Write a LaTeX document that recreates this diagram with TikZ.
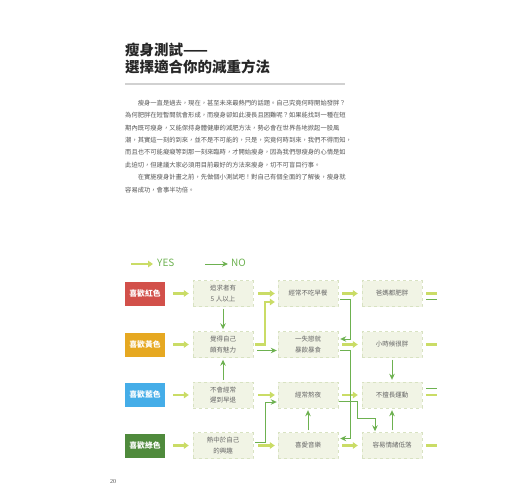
\documentclass[tikz,border=0pt]{standalone}
\usepackage{fontspec}
\setmainfont{Noto Sans CJK TC}
\newfontfamily\pagefont{Liberation Serif}
\usetikzlibrary{arrows.meta,calc}
\definecolor{redc}{HTML}{D2504A}
\definecolor{yelc}{HTML}{E6A821}
\definecolor{bluc}{HTML}{45ADE8}
\definecolor{grnc}{HTML}{4F8A3C}
\definecolor{yesc}{HTML}{CADC66}
\definecolor{noc}{HTML}{6DB150}
\definecolor{boxf}{HTML}{F1F4E5}
\definecolor{boxd}{HTML}{D8E2C2}
\definecolor{txtc}{HTML}{666666}
\definecolor{bodyc}{HTML}{555555}
\tikzset{
  qbox/.style={draw=boxd, dashed, fill=boxf, minimum width=60, minimum height=26, inner sep=0pt, align=center, text=txtc, font=\fontsize{6.5}{10.5}\selectfont},
  cbox/.style={minimum width=40, minimum height=24, inner sep=0pt, text=white, font=\fontsize{7.8}{8}\selectfont\bfseries},
  yesarrow/.style={draw=yesc, line width=2.2pt, -{Triangle[length=5pt,width=6.5pt]}},
  yesstub/.style={draw=yesc, line width=2.2pt},
  noarrow/.style={draw=noc, line width=1pt, -{Stealth[length=6pt,width=5.5pt]}},
  nostub/.style={draw=noc, line width=1pt},
  bodyline/.style={anchor=west, inner sep=0pt, text=bodyc, font=\fontsize{6.3}{7}\selectfont},
  titleline/.style={anchor=west, inner sep=0pt, text=black!85, font=\fontsize{14.5}{15}\selectfont\bfseries},
  legend/.style={anchor=west, inner sep=0pt, text=noc, font=\fontsize{10}{10}\selectfont}
}
\begin{document}
\begin{tikzpicture}[x=1pt,y=-1pt]
\useasboundingbox (0,0) rectangle (520,500);
% title
\node[titleline] (t1) at (125,50) {瘦身測試——};
\node[titleline] (t2) at (125,67) {選擇適合你的減重方法};
\draw[black!18, line width=1.2pt] (125,84) -- (345,84);
% body
\node[bodyline] (p1) at (125,103) {\hspace*{2em}瘦身一直是過去，現在，甚至未來最熱門的話題。自己究竟何時開始發胖？};
\node[bodyline] (p2) at (125,115.4) {為何肥胖在短暫間就會形成，而瘦身卻如此漫長且困難呢？如果能找到一種在短};
\node[bodyline] (p3) at (125,127.8) {期內既可瘦身，又能保持身體健康的減肥方法，勢必會在世界各地掀起一股風};
\node[bodyline] (p4) at (125,140.2) {潮，其實這一刻的到來，並不是不可能的，只是，究竟何時到來，我們不得而知，};
\node[bodyline] (p5) at (125,152.6) {而且也不可能癡癡等到那一刻來臨時，才開始瘦身，因為我們想瘦身的心情是如};
\node[bodyline] (p6) at (125,165) {此迫切，但建議大家必須用目前最好的方法來瘦身，切不可盲目行事。};
\node[bodyline] (p7) at (125,177.4) {\hspace*{2em}在實施瘦身計畫之前，先做個小測試吧！對自己有個全面的了解後，瘦身就};
\node[bodyline] (p8) at (125,189.8) {容易成功，會事半功倍。};
% legend
\node[legend] (lyes) at (157,263) {YES};
\node[legend] (lno) at (231,263) {NO};
\draw[yesarrow] ([xshift=-26pt,yshift=-1pt]lyes.west) -- ([xshift=-4pt,yshift=-1pt]lyes.west);
\draw[noarrow] ([xshift=-26pt,yshift=-1pt]lno.west) -- ([xshift=-3pt,yshift=-1pt]lno.west);
% color boxes
\node[cbox, fill=redc] (k1) at (145,293.5) {喜歡紅色};
\node[cbox, fill=yelc] (k2) at (145,344.5) {喜歡黃色};
\node[cbox, fill=bluc] (k3) at (145,395) {喜歡藍色};
\node[cbox, fill=grnc] (k4) at (145,445.5) {喜歡綠色};
% question boxes
\node[qbox] (a1) at (223,293.5) {追求者有\\5 人以上};
\node[qbox] (b1) at (308,293.5) {經常不吃早餐};
\node[qbox] (c1) at (392,293.5) {爸媽都肥胖};
\node[qbox] (a2) at (223,344.5) {覺得自己\\頗有魅力};
\node[qbox] (b2) at (308,344.5) {一失戀就\\暴飲暴食};
\node[qbox] (c2) at (392,344.5) {小時候很胖};
\node[qbox] (a3) at (223,395) {不會經常\\遲到早退};
\node[qbox] (b3) at (308,395) {經常熬夜};
\node[qbox] (c3) at (392,395) {不擅長運動};
\node[qbox] (a4) at (223,445.5) {熱中於自己\\的興趣};
\node[qbox] (b4) at (308,445.5) {喜愛音樂};
\node[qbox] (c4) at (392,445.5) {容易情緒低落};
% yes arrows, straight
\foreach \r in {1,2,3,4}{
  \draw[yesarrow, shorten <=8pt, shorten >=4pt] (k\r) -- (a\r);
  \draw[yesarrow, shorten <=4pt, shorten >=4pt] (b\r) -- (c\r);
}
\foreach \r in {1,3,4}{
  \draw[yesarrow, shorten <=5pt, shorten >=3pt] (a\r) -- (b\r);
}
% yes stubs
\foreach \r in {1,2,3,4}{
  \draw[yesstub] ([xshift=4pt]c\r.east) -- ([xshift=15pt]c\r.east);
}
\draw[nostub] ([xshift=4pt,yshift=-5.5pt]c1.east) -- ([xshift=15pt,yshift=-5.5pt]c1.east);
\draw[nostub] ([xshift=4pt,yshift=6.5pt]c3.east) -- ([xshift=15pt,yshift=6.5pt]c3.east);
% yes bend a2 -> b1
\draw[yesarrow] ([xshift=2pt]a2.east) -- ++(10,0) |- ([xshift=-3pt,yshift=-8.5pt]b1.west);
% no arrows
\draw[noarrow, shorten <=2pt, shorten >=2pt] (a1) -- (a2);
\draw[noarrow, shorten <=2pt, shorten >=2pt] (a3) -- (a2);
\draw[noarrow] ([xshift=4pt,yshift=-6pt]a2.east) -- ([xshift=-1pt,yshift=-6pt]b2.west);
\draw[noarrow] ([xshift=2pt,yshift=-5.5pt]b1.east) -- ++(10,0) |- ([xshift=2pt,yshift=5.5pt]b2.east);
\draw[noarrow] ([xshift=2pt,yshift=-6pt]b2.east) -- ++(10,0) |- ([xshift=2pt,yshift=7pt]b4.east);
\draw[noarrow] ([xshift=1pt,yshift=-6.5pt]b3.east) -- ++(18,0) -- ++(0,16.5) -| ([xshift=-17pt,yshift=1pt]c4.north);
\draw[noarrow] ([xshift=2pt,yshift=3.5pt]a4.east) -- ++(10,0) |- ([xshift=-1pt,yshift=-7pt]b3.west);
\draw[noarrow, shorten <=2pt, shorten >=2pt] (b4) -- (b3);
\draw[noarrow, shorten <=2pt, shorten >=2pt] (c4) -- (c3);
\draw[noarrow, shorten <=2pt, shorten >=2pt] (c2) -- (c3);
% page number
\node[inner sep=0pt, text=black!70, font=\pagefont\fontsize{6}{6}\selectfont] (pg) at (113,482) {20};
\end{tikzpicture}
\end{document}
